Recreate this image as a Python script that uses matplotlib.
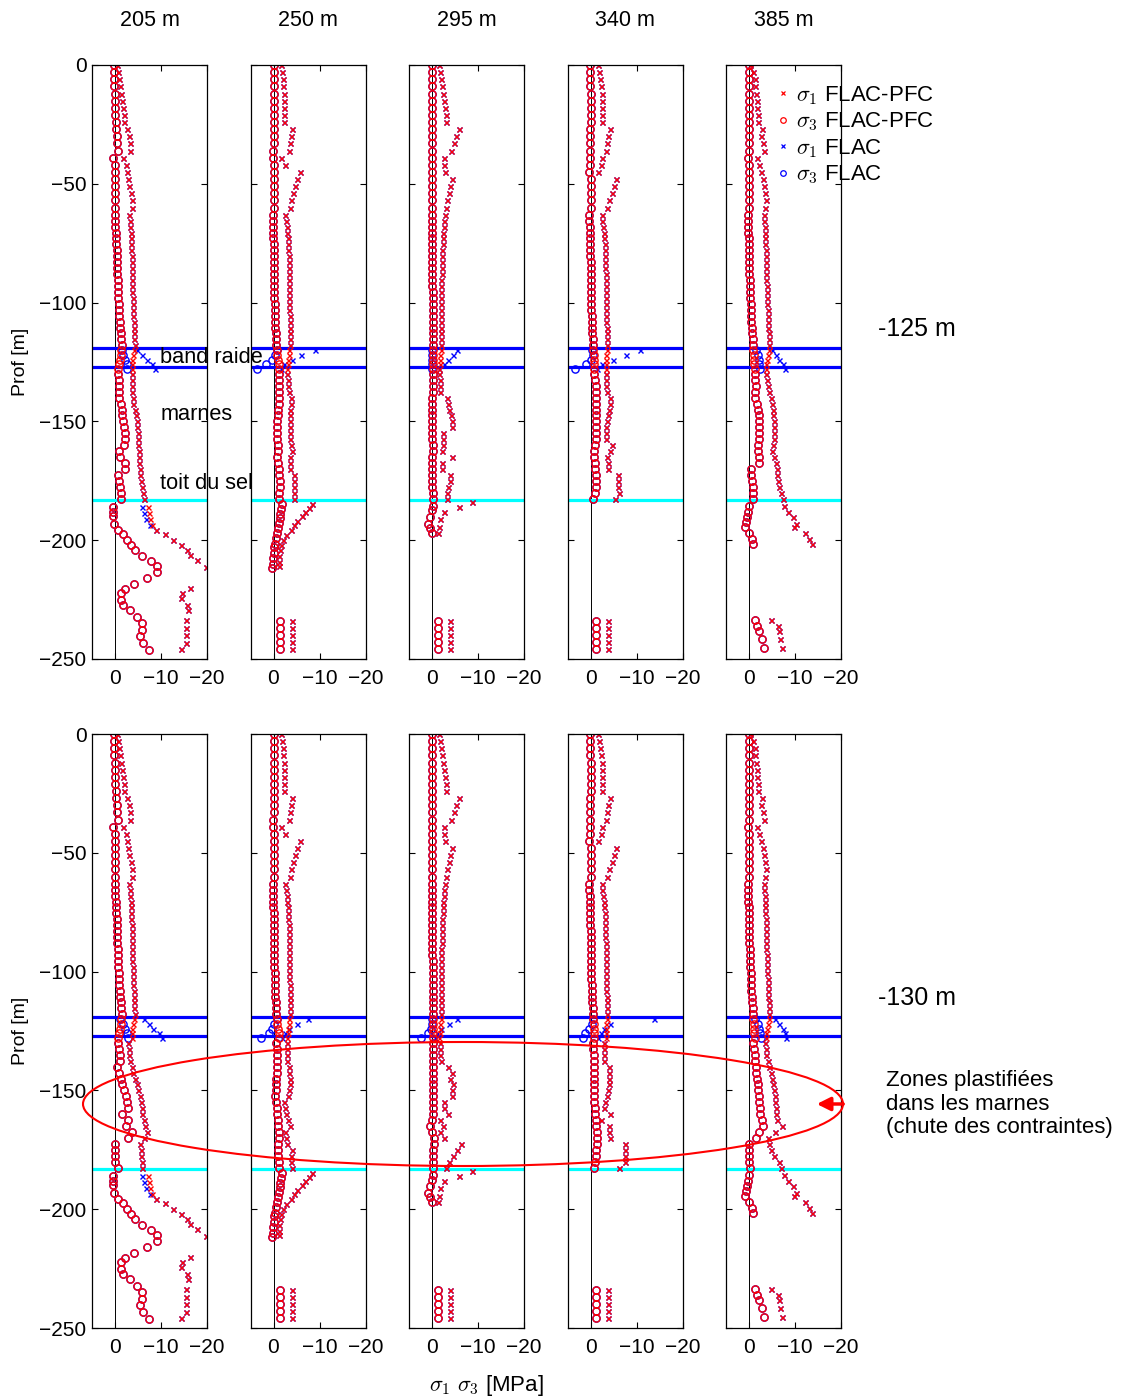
import matplotlib
matplotlib.use('Agg')
import matplotlib.pyplot as plt
from matplotlib.patches import Ellipse, FancyArrowPatch
from matplotlib.lines import Line2D

plt.rcParams['font.family'] = ['Liberation Sans', 'DejaVu Sans']
plt.rcParams['mathtext.fontset'] = 'cm'

# ---------------- labels ----------------
COL_TITLES = ['205 m', '250 m', '295 m', '340 m', '385 m']
ROW_TITLES = ['-125 m', '-130 m']
LEGEND_LABELS = [r'$\sigma_1$ FLAC-PFC', r'$\sigma_3$ FLAC-PFC', r'$\sigma_1$ FLAC', r'$\sigma_3$ FLAC']

# layer limits (m)
BAND_LINES = [-119, -127]
SALT_LINE = -183

# ---------------- depths (m) ----------------
Z_UP = [0, -3, -6, -9, -12, -15, -18, -21, -24, -27, -30, -33, -36, -39, -42, -45, -48, -51, -54, -57, -60]
Z_MID = [-63, -65.5, -68, -70.5, -73, -75.5, -78, -80.5, -83, -85.5, -88, -90.5, -93, -95.5, -98,
         -100.5, -103, -105.5, -108, -110.5, -113, -115.5, -118]
Z_BAND = [-120, -122, -124, -126, -128]
Z_MARL = [-130, -132.5, -135, -137.5, -140, -142.5, -145, -147.5, -150, -152.5, -155, -157.5, -160,
          -162.5, -165, -167.5, -170, -172.5, -175, -177.5, -180, -182.5]

# ---------------- stresses (MPa), one list per column ----------------
S1_UP = [
    [-0.4, -0.6, -0.9, -1.1, -1.2, -1.5, -1.7, -2.0, -2.0, -2.5, -3.0, -3.2, -3.3, -1.8, -2.4, -2.5, -2.8, -3.1, -3.4, -3.8, -3.8],
    [-1.7, -1.9, -2.0, -2.1, -2.2, -2.2, -2.3, -2.3, -2.3, -4.0, -3.7, -3.5, -3.3, -1.7, -2.6, -5.7, -5.1, -4.6, -4.3, -3.8, -3.5],
    [-1.6, -1.7, -1.9, -2.1, -2.3, -2.6, -2.8, -3.0, -3.1, -5.9, -5.3, -4.7, -4.2, -2.7, -2.7, -2.8, -4.3, -3.9, -3.7, -3.3, -3.0],
    [-1.7, -1.8, -2.0, -2.2, -2.4, -2.4, -2.4, -2.4, -2.4, -4.3, -3.8, -3.6, -3.3, -2.6, -2.2, -1.7, -5.6, -5.1, -4.6, -4.0, -3.6],
    [-0.3, -0.9, -1.2, -1.3, -1.5, -1.7, -1.7, -1.9, -2.0, -2.8, -2.6, -3.0, -3.3, -1.7, -2.2, -2.6, -3.0, -3.3, -3.5, -3.7, -3.5],
]
S3_UP = [
    [0.2, 0.2, 0.2, 0.2, 0.1, 0.1, 0.0, -0.1, -0.2, -0.3, -0.4, -0.5, -0.6, 0.4, 0.0, 0.1, 0.0, 0.0, 0.0, 0.0, 0.0],
    [0.0, 0.0, 0.0, 0.0, 0.0, -0.1, 0.0, 0.0, 0.0, 0.0, 0.0, 0.0, 0.1, 0.2, 0.0, 0.0, 0.0, 0.0, 0.0, 0.0, 0.0],
    [0.0, 0.0, 0.1, 0.0, 0.0, 0.0, 0.0, 0.0, 0.0, 0.0, 0.0, 0.0, 0.0, 0.1, 0.0, 0.0, 0.0, 0.0, 0.0, 0.0, 0.0],
    [0.1, 0.1, 0.1, 0.1, 0.0, 0.0, 0.0, 0.0, 0.0, 0.1, 0.1, 0.1, 0.1, 0.1, 0.2, 0.3, 0.0, 0.0, 0.0, 0.0, 0.0],
    [0.1, 0.1, 0.0, 0.1, 0.1, 0.0, 0.0, 0.0, 0.1, 0.1, 0.0, 0.0, 0.0, 0.2, 0.1, 0.1, 0.0, 0.0, 0.0, 0.0, 0.0],
]
S1_MID = [
    [-3.1, -3.2, -3.3, -3.4, -3.4, -3.5, -3.5, -3.6, -3.6, -3.7, -3.7, -3.7, -3.8, -3.8, -3.9, -3.9, -4.0, -4.0, -4.1, -4.1, -4.2, -4.2, -4.3],
    [-2.5, -2.7, -2.9, -3.0, -3.1, -3.2, -3.2, -3.3, -3.3, -3.3, -3.3, -3.4, -3.4, -3.4, -3.4, -3.4, -3.4, -3.5, -3.5, -3.5, -3.5, -3.5, -3.5],
    [-2.8, -2.6, -2.5, -2.4, -2.3, -2.3, -2.2, -2.2, -2.1, -2.1, -2.1, -2.0, -2.0, -2.0, -2.0, -2.0, -2.0, -2.0, -2.0, -2.0, -2.0, -2.0, -2.0],
    [-2.4, -2.6, -2.8, -3.0, -3.0, -3.1, -3.1, -3.2, -3.2, -3.2, -3.3, -3.3, -3.3, -3.3, -3.4, -3.4, -3.4, -3.4, -3.4, -3.5, -3.5, -3.5, -3.5],
    [-3.3, -3.3, -3.4, -3.4, -3.5, -3.5, -3.6, -3.6, -3.7, -3.7, -3.8, -3.8, -3.9, -3.9, -4.0, -4.0, -4.1, -4.1, -4.2, -4.2, -4.3, -4.3, -4.4],
]
S3_MID = [
    [0.0, -0.1, -0.1, -0.2, -0.2, -0.3, -0.4, -0.4, -0.5, -0.5, -0.5, -0.6, -0.6, -0.7, -0.7, -0.8, -0.8, -0.9, -1.0, -1.1, -1.2, -1.3, -1.5],
    [0.2, 0.2, 0.1, 0.1, 0.1, 0.0, 0.0, 0.0, -0.1, -0.1, -0.1, -0.1, -0.2, -0.2, -0.2, -0.3, -0.3, -0.3, -0.4, -0.4, -0.5, -0.5, -0.6],
    [0.0, 0.0, 0.0, 0.0, 0.0, 0.0, -0.1, -0.1, -0.1, -0.1, -0.1, -0.1, -0.1, -0.2, -0.2, -0.2, -0.2, -0.2, -0.2, -0.2, -0.3, -0.3, -0.3],
    [0.3, 0.3, 0.2, 0.2, 0.2, 0.1, 0.1, 0.1, 0.0, 0.0, 0.0, -0.1, -0.1, -0.1, -0.2, -0.2, -0.2, -0.3, -0.3, -0.4, -0.4, -0.5, -0.6],
    [0.3, 0.3, 0.2, 0.2, 0.1, 0.1, 0.1, 0.0, 0.0, -0.1, -0.1, -0.2, -0.2, -0.3, -0.3, -0.4, -0.4, -0.5, -0.5, -0.6, -0.7, -0.8, -0.9],
]

# band raide: FLAC-PFC (red) and FLAC (blue, one list per row)
S1_BAND = [[-4.2, -4.0, -3.8, -3.7, -3.6], [-3.4, -3.3, -3.2, -3.1, -3.0], [-1.9, -1.8, -1.8, -1.7, -1.6],
           [-3.5, -3.4, -3.4, -3.3, -3.3], [-4.3, -4.1, -4.0, -3.8, -3.7]]
S3_BAND = [[-1.4, -1.2, -1.0, -0.8, -0.7], [-0.7, -0.8, -1.0, -1.1, -1.2], [-0.3, -0.3, -0.3, -0.3, -0.3],
           [-0.6, -0.7, -0.7, -0.8, -0.8], [-0.9, -1.0, -1.0, -1.1, -1.2]]
B1_BAND_R1 = [[-4.8, -5.9, -7.0, -8.0, -8.7], [-9.1, -6.0, -4.0, -2.2, -1.7], [-5.5, -4.6, -3.5, -2.5, -1.6],
              [-10.7, -7.8, -4.9, -2.4, -1.5], [-5.1, -5.9, -6.6, -7.3, -7.8]]
B3_BAND_R1 = [[-1.5, -1.8, -2.2, -2.5, -2.7], [-0.8, -0.3, 0.3, 1.7, 3.5], [-0.1, 0.0, 0.1, 0.0, -0.1],
              [-0.4, -0.6, 0.0, 0.9, 3.4], [-1.5, -1.9, -2.1, -2.2, -2.3]]
B1_BAND_R2 = [[-6.2, -7.3, -8.3, -9.6, -10.3], [-7.5, -5.1, -3.3, -2.4, -1.8], [-5.5, -3.8, -1.9, -1.0, -0.6],
              [-13.8, -4.3, -2.9, -2.2, -1.7], [-5.7, -6.5, -7.3, -7.8, -8.0]]
B3_BAND_R2 = [[-1.1, -1.7, -2.2, -2.7, -2.9], [-0.7, -0.2, 0.3, 0.9, 2.7], [-0.1, 0.0, 0.3, 0.8, 2.5],
              [-0.5, -0.3, 0.4, 1.1, 1.6], [-1.3, -1.9, -2.2, -2.4, -2.5]]

# marnes: row 1 (-125 m) and row 2 (-130 m)
S1_MARL_R1 = [
    [-3.6, -3.6, -3.6, -3.7, -3.9, -4.0, -4.3, -4.5, -4.7, -4.8, -4.9, -5.0, -5.1, -5.2, -5.3, -5.3, -5.4, -5.5, -5.7, -5.8, -6.0, -6.2],
    [-3.0, -3.1, -3.2, -3.3, -3.7, -3.8, -3.6, -3.5, -3.5, -3.5, -3.5, -3.6, -3.7, -4.0, -3.5, -3.5, -3.6, -4.4, -4.4, -4.4, -4.4, -4.4],
    [-1.6, -1.7, -1.7, -1.7, -3.2, -3.5, -3.8, -4.1, -4.3, -4.3, -2.3, -2.4, -2.4, -2.2, -4.3, -2.1, -2.1, -3.9, -3.9, -3.5, -3.2, -3.2],
    [-3.3, -3.3, -3.3, -3.5, -4.3, -4.2, -4.0, -3.7, -3.5, -3.3, -3.3, -3.4, -4.7, -4.2, -3.5, -3.7, -3.7, -5.9, -6.0, -6.0, -6.1, -5.4],
    [-3.7, -3.9, -4.1, -4.4, -4.7, -5.0, -5.2, -5.3, -5.4, -5.4, -5.4, -5.4, -5.2, -5.1, -5.5, -5.9, -6.0, -6.1, -6.3, -6.6, -6.9, -7.3],
]
S3_MARL_R1 = [
    [-0.7, -0.8, -0.9, -0.9, -0.9, -1.2, -1.5, -1.6, -1.7, -1.9, -2.2, -2.1, -2.0, -0.8, -1.1, -2.2, -2.2, -0.7, -0.9, -1.1, -1.2, -1.2],
    [-1.2, -1.2, -1.3, -1.2, -1.2, -1.1, -1.0, -0.9, -0.8, -0.7, -0.7, -0.8, -0.9, -1.0, -0.8, -0.9, -1.1, -1.3, -1.4, -1.4, -1.3, -1.2],
    [-0.3, -0.3, -0.2, -0.2, -0.1, -0.1, -0.1, 0.0, 0.0, 0.0, -0.1, -0.1, -0.2, -0.2, -0.1, -0.1, 0.0, 0.0, -0.1, -0.1, -0.2, -0.2],
    [-0.8, -1.0, -1.1, -1.3, -1.3, -1.3, -1.3, -1.3, -1.3, -1.2, -1.2, -1.1, -1.0, -0.8, -0.8, -0.9, -1.0, -1.1, -1.1, -1.1, -1.0, -0.5],
    [-1.2, -1.3, -1.5, -1.4, -1.3, -1.8, -2.0, -2.1, -2.2, -2.2, -2.2, -2.2, -1.9, -1.9, -2.1, -2.2, -0.4, -0.5, -0.7, -0.8, -0.9, -0.9],
]
S1_MARL_R2 = [
    [-2.9, -3.0, -3.1, -3.3, -3.6, -3.9, -4.3, -4.7, -5.1, -5.4, -5.7, -5.8, -5.9, -6.2, -6.6, -6.9, -6.4, -5.4, -5.6, -5.7, -5.8, -5.9],
    [-3.0, -3.0, -3.0, -3.0, -3.3, -3.4, -3.5, -3.5, -3.3, -3.2, -2.2, -2.6, -2.8, -3.2, -3.5, -2.5, -2.8, -3.0, -4.0, -3.7, -3.8, -4.0],
    [-1.7, -1.8, -1.8, -1.9, -3.5, -4.3, -3.9, -4.5, -4.4, -4.4, -2.5, -2.6, -3.5, -1.7, -2.3, -1.7, -2.7, -6.3, -5.4, -4.6, -3.8, -3.0],
    [-3.0, -3.0, -3.0, -3.0, -4.0, -4.0, -4.0, -4.0, -3.8, -3.5, -3.2, -2.9, -4.2, -2.2, -4.0, -4.1, -4.2, -7.4, -7.4, -7.4, -7.4, -6.2],
    [-3.5, -3.6, -3.8, -4.1, -4.4, -4.7, -5.1, -5.3, -5.5, -5.6, -5.7, -5.8, -5.9, -6.0, -7.1, -5.7, -4.2, -4.4, -4.8, -5.5, -6.5, -7.0],
]
S3_MARL_R2 = [
    [-0.7, -0.8, -1.0, -1.1, -0.4, -0.8, -1.3, -1.6, -2.0, -2.4, -2.6, -2.8, -1.5, -2.9, -2.3, -3.6, -2.8, 0.0, 0.0, 0.0, 0.0, -0.7],
    [-0.6, -0.7, -0.7, -0.8, -0.8, -0.7, -0.6, -0.6, -0.5, -0.4, -0.6, -0.8, -0.8, -0.9, -1.0, -1.1, -1.1, -1.0, -1.0, -1.0, -1.1, -1.1],
    [-0.2, -0.2, -0.2, -0.2, -0.2, -0.2, -0.2, -0.3, -0.3, -0.3, -0.3, -0.3, -0.2, 0.0, 0.4, 0.1, -0.4, -0.4, -0.3, -0.3, -0.3, -0.3],
    [-0.6, -0.6, -0.7, -0.7, -0.7, -0.7, -0.7, -0.7, -0.7, -0.7, -0.8, -0.9, -1.0, -1.1, -1.2, -1.4, -1.4, -1.4, -1.3, -1.1, -0.9, -0.7],
    [-0.9, -1.0, -1.2, -1.3, -1.5, -1.6, -1.7, -1.9, -2.0, -2.1, -2.2, -2.3, -2.4, -2.8, -3.1, -2.2, -1.5, 0.1, 0.1, 0.0, 0.0, -0.2],
]

# sel: own depths per column
Z1_SALT = [
    [-186, -188.5, -191, -193.5, -195.6, -197.6, -200, -202.2, -204.3, -206.4, -208.5, -211.3, -220, -222.4, -224.5, -227.3, -229.4, -233.6, -237, -240, -243.2, -246],
    [-184.7, -186.3, -188, -190, -192, -193.6, -195.6, -197.7, -200, -202, -204, -206.7, -209, -211, -234, -237, -240, -243, -246],
    [-184, -186, -188.3, -191, -194.5, -197, -234, -237, -240, -243, -246],
    [-234, -237, -240, -243, -246],
    [-185.5, -188, -190.4, -193, -194.5, -197, -199.3, -201.5, -233.5, -236, -238.4, -241.7, -245.4],
]
S1_SALT = [
    [-7.2, -7.4, -7.7, -8.0, -8.9, -10.9, -12.7, -14.3, -15.6, -16.3, -17.8, -19.8, -16.3, -14.5, -14.3, -15.6, -15.9, -15.4, -15.4, -15.4, -15.4, -14.3],
    [-8.4, -7.7, -6.9, -6.1, -5.1, -4.4, -3.7, -2.8, -2.1, -1.7, -1.4, -1.2, -1.2, -1.2, -4.0, -4.0, -4.0, -4.0, -4.0],
    [-8.6, -5.9, -2.7, -1.8, -1.6, -1.2, -3.9, -3.9, -3.9, -3.9, -3.9],
    [-3.8, -3.8, -3.8, -3.8, -3.8],
    [-7.7, -8.4, -9.5, -10.2, -9.8, -12.2, -13.1, -13.7, -4.8, -6.4, -6.6, -6.8, -7.2],
]
B1_SALT_205 = [-5.8, -6.2, -6.7, -7.6, -8.9, -10.9, -12.7, -14.3, -15.6, -16.3, -17.8, -19.8, -16.3, -14.5, -14.3, -15.6, -15.9, -15.4, -15.4, -15.4, -15.4, -14.3]
Z3_SALT = [
    [-186, -188, -190, -193, -195.6, -197.6, -200, -202.2, -204.3, -206.8, -208.8, -211, -213.4, -215.8, -218.3, -220.4, -222.4, -225, -227.3, -229.4, -232.3, -235, -237.9, -240.4, -243.2, -246.3],
    [-184.7, -187, -189, -190.7, -192.8, -195, -197, -199, -201.5, -203, -205.5, -207.7, -210, -211.5, -234, -237, -240, -243, -246],
    [-185.5, -187.5, -190.4, -193, -195, -197, -234, -237, -240, -243, -246],
    [-234, -237, -240, -243, -246],
    [-185.5, -188, -190.4, -192.5, -194.5, -197, -199.3, -201.5, -233.5, -236, -238.4, -241.7, -245.4],
]
S3_SALT = [
    [0.4, 0.4, 0.4, 0.2, -0.7, -1.8, -2.5, -3.4, -4.3, -5.8, -7.8, -9.2, -9.1, -7.0, -4.1, -2.2, -1.2, -1.2, -1.7, -3.3, -4.7, -5.8, -5.8, -5.4, -6.0, -7.4],
    [-1.9, -1.7, -1.5, -1.4, -1.2, -0.9, -0.8, -0.6, -0.4, -0.2, -0.1, 0.1, 0.2, 0.3, -1.5, -1.5, -1.5, -1.5, -1.5],
    [-0.3, -0.1, 0.4, 0.8, 0.4, 0.1, -1.4, -1.4, -1.4, -1.4, -1.4],
    [-1.3, -1.3, -1.3, -1.3, -1.3],
    [0.1, 0.3, 0.4, 0.6, 0.8, -0.1, -0.6, -0.9, -1.2, -1.7, -2.2, -2.9, -3.3],
]

# ---------------- figure ----------------
W, H = 1125, 1400
fig = plt.figure(figsize=(W / 100, H / 100), dpi=100)

col_left = [92, 250.5, 409, 567.5, 726]
row_span = [(65, 659), (734, 1328)]
ax_w = 115

marl_s1 = [S1_MARL_R1, S1_MARL_R2]
marl_s3 = [S3_MARL_R1, S3_MARL_R2]
band_b1 = [B1_BAND_R1, B1_BAND_R2]
band_b3 = [B3_BAND_R1, B3_BAND_R2]

for r in range(2):
    for c in range(5):
        y0, y1 = row_span[r]
        ax = fig.add_axes([col_left[c] / W, 1 - y1 / H, ax_w / W, (y1 - y0) / H])
        if c == 0:
            ax.set_zorder(3)

        z1 = Z_UP + Z_MID + Z_BAND + Z_MARL + Z1_SALT[c]
        z3 = Z_UP + Z_MID + Z_BAND + Z_MARL + Z3_SALT[c]
        red1 = S1_UP[c] + S1_MID[c] + S1_BAND[c] + marl_s1[r][c] + S1_SALT[c]
        red3 = S3_UP[c] + S3_MID[c] + S3_BAND[c] + marl_s3[r][c] + S3_SALT[c]
        blue_salt = B1_SALT_205 if c == 0 else S1_SALT[c]
        blue1 = S1_UP[c] + S1_MID[c] + band_b1[r][c] + marl_s1[r][c] + blue_salt
        blue3 = S3_UP[c] + S3_MID[c] + band_b3[r][c] + marl_s3[r][c] + S3_SALT[c]

        ax.axvline(0, color='k', lw=0.7, zorder=1)
        for zl in BAND_LINES:
            ax.axhline(zl, color='#0000ff', lw=2.3, zorder=1.5)
        ax.axhline(SALT_LINE, color='#00ffff', lw=2.3, zorder=1.5)

        ax.plot(blue1, z1, 'x', color='b', ms=3.6, mew=1.0, ls='none')
        ax.plot(blue3, z3, 'o', mec='b', mfc='none', ms=5.2, mew=1.0, ls='none')
        ax.plot(red1, z1, 'x', color='r', ms=3.6, mew=1.0, ls='none')
        ax.plot(red3, z3, 'o', mec='r', mfc='none', ms=5.2, mew=1.0, ls='none')

        ax.set_xlim(5, -20)
        ax.set_ylim(-250, 0)
        ax.set_xticks([0, -10, -20])
        ax.set_yticks([0, -50, -100, -150, -200, -250])
        ax.tick_params(direction='in', top=True, right=True, length=4, width=0.8, labelsize=15)
        ax.tick_params(axis='x', pad=7)
        ax.tick_params(axis='y', pad=4)
        for sp in ax.spines.values():
            sp.set_linewidth(0.9)

        if c == 0:
            ax.set_ylabel('Prof [m]', fontsize=14, labelpad=7)
        else:
            ax.set_yticklabels([])

        if r == 0:
            ax.text(0.5, 1 + 45 / 594, COL_TITLES[c], transform=ax.transAxes,
                    ha='center', va='center', fontsize=15.5)

        if r == 0 and c == 0:
            ax.text(-9.8, -123, 'band raide', va='center', fontsize=15.7, clip_on=False)
            ax.text(-9.8, -147.3, 'marnes', va='center', fontsize=15.7, clip_on=False)
            ax.text(-9.8, -176.3, 'toit du sel', va='center', fontsize=15.7, clip_on=False)

        if r == 0 and c == 4:
            handles = [
                Line2D([], [], ls='none', marker='x', color='r', ms=3.5, mew=0.9),
                Line2D([], [], ls='none', marker='o', mec='r', mfc='none', ms=4, mew=0.9),
                Line2D([], [], ls='none', marker='x', color='b', ms=3.5, mew=0.9),
                Line2D([], [], ls='none', marker='o', mec='b', mfc='none', ms=4, mew=0.9),
            ]
            ax.legend(handles, LEGEND_LABELS, loc='upper left', bbox_to_anchor=(0.45, 0.968),
                      frameon=False, fontsize=16, handlelength=0.5, handletextpad=0.3,
                      labelspacing=0.17, borderpad=0, borderaxespad=0)

for r, lab in enumerate(ROW_TITLES):
    yc = row_span[r][0] + 264
    fig.text(878 / W, 1 - yc / H, lab, ha='left', va='center', fontsize=18)

fig.text(486 / W, 1 - 1386 / H, r'$\sigma_1$ $\sigma_3$ [MPa]', ha='center', va='center', fontsize=16)

# plastified zone
fig.add_artist(Ellipse((463 / W, 1 - 1104 / H), 760 / W, 124 / H, transform=fig.transFigure,
                       fill=False, ec='r', lw=1.5, zorder=5))
fig.add_artist(FancyArrowPatch((846 / W, 1 - 1104 / H), (814 / W, 1 - 1104 / H),
                               transform=fig.transFigure, arrowstyle='-|>', mutation_scale=20,
                               color='r', lw=2.5, zorder=5))
fig.text(886 / W, 1 - 1104 / H, 'Zones plastifiées\ndans les marnes\n(chute des contraintes)',
         ha='left', va='center', fontsize=16, linespacing=1.18)

fig.savefig('out.png', dpi=100)
